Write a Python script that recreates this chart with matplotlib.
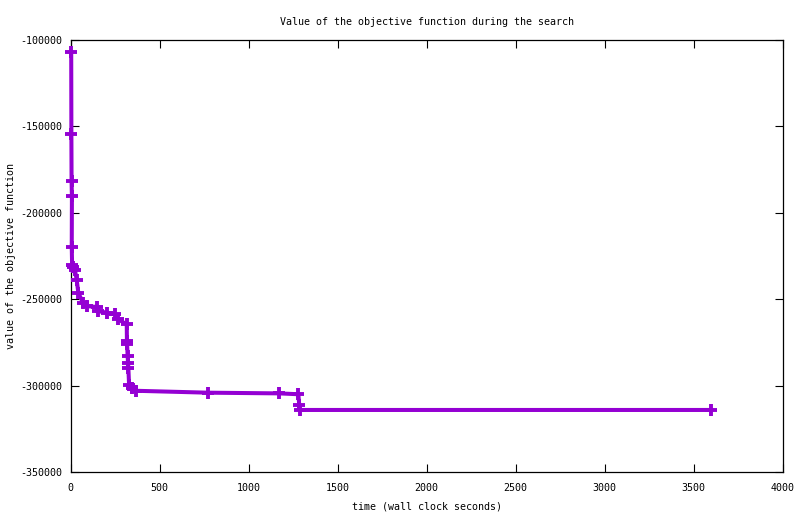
import matplotlib
matplotlib.use("Agg")
import matplotlib.pyplot as plt

# wall clock seconds / objective value
times = [4, 5, 6, 8, 7, 9, 14, 25, 35, 44, 72, 91, 147, 156, 203, 250,
         269, 316, 317, 318, 321, 323, 325, 329, 344, 368, 772,
         1171, 1280, 1285, 1288, 3600]
objective = [-107000, -154500, -181800, -190500, -219600, -230200, -231500,
             -233100, -238900, -246400, -252400, -254000, -254500, -256900,
             -257800, -258800, -261700, -264600, -274200, -276200, -282900,
             -286700, -289600, -299400, -301300, -303000, -304100,
             -304500, -305000, -311200, -314100, -314100]

xticks = list(range(0, 4001, 500))
yticks = list(range(-350000, -99999, 50000))

plt.rcParams["font.family"] = "DejaVu Sans Mono"
plt.rcParams["font.size"] = 7.2

fig = plt.figure(figsize=(8.0, 5.14), dpi=100)
ax = fig.add_axes([70.5 / 800, 1 - 472 / 514, 712 / 800, 432 / 514])

ax.plot(times, objective, color="#9400d3", linewidth=2.9,
        marker="+", markersize=8.5, markeredgewidth=2.8, zorder=3,
        clip_on=False)

ax.set_xlim(0, 4000)
ax.set_ylim(-350000, -100000)
ax.set_xticks(xticks)
ax.set_yticks(yticks)
ax.set_xticklabels([str(v) for v in xticks])
ax.set_yticklabels([str(v) for v in yticks])
ax.tick_params(direction="in", length=6, width=0.8, top=True, right=True,
               colors="black", labelsize=7.2)
ax.tick_params(axis="x", pad=8)
ax.tick_params(axis="y", pad=6)
for s in ax.spines.values():
    s.set_linewidth(0.9)

ax.set_title("Value of the objective function during the search", pad=11,
             fontsize=7.2)
ax.set_xlabel("time (wall clock seconds)", labelpad=6)
ax.set_ylabel("value of the objective function", labelpad=3)

fig.savefig("out.png", dpi=100)
